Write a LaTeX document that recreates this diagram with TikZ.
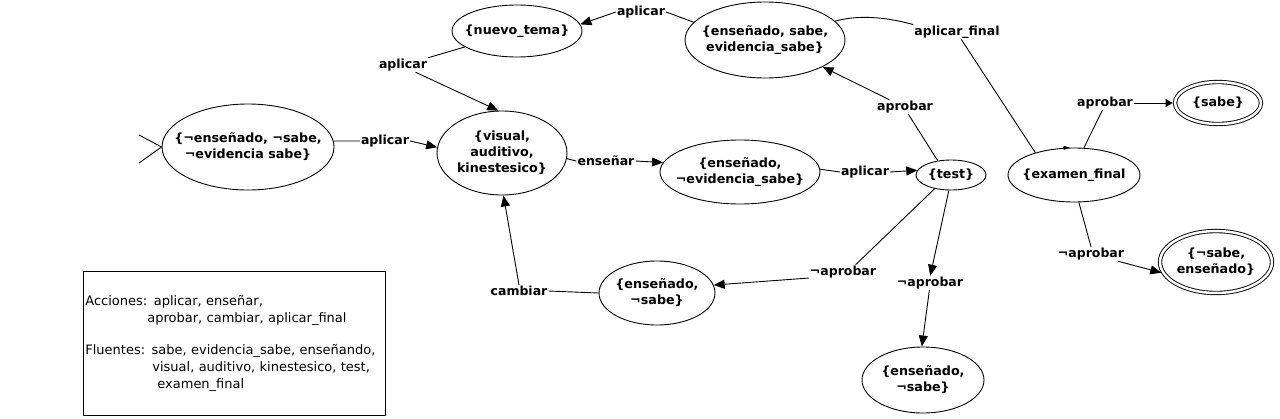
\documentclass[tikz,border=0pt]{standalone}
\usepackage{fontspec}
\setmainfont{DejaVu Sans}
\usetikzlibrary{shapes.geometric,arrows.meta}
\begin{document}
\begin{tikzpicture}[x=1pt,y=-1pt,
  st/.style={ellipse,draw,line width=0.9pt,inner sep=0pt},
  stl/.style={align=center,inner sep=0pt,font=\fontsize{12.7}{16}\selectfont\bfseries},
  fin/.style={st,double,double distance=2.5pt},
  lbl/.style={inner sep=1pt,font=\fontsize{12.5}{14}\selectfont\bfseries},
  ln/.style={line width=0.9pt},
  arr/.style={ln,-{Triangle[length=11pt,width=9pt]}},
  smallarr/.style={ln,-{Triangle[length=6pt,width=4pt]}},
]
\useasboundingbox (0,0) rectangle (1280,418);

% states
\node[st,minimum width=172,minimum height=86,label={[stl]center:{\{¬enseñado, ¬sabe,\\¬evidencia sabe\}}}] (s0) at (248,147) {};
\node[st,minimum width=130,minimum height=84,label={[stl]center:{\{visual,\\auditivo,\\kinestesico\}}}] (vis) at (502,153) {};
\node[st,minimum width=130,minimum height=52,label={[stl]center:{\{nuevo\_tema\}}}] (nt) at (517,31) {};
\node[st,minimum width=160,minimum height=76,label={[stl]center:{\{enseñado, sabe,\\evidencia\_sabe\}}}] (top) at (765,40) {};
\node[st,minimum width=160,minimum height=64,label={[stl]center:{\{enseñado,\\¬evidencia\_sabe\}}}] (mid) at (740,172) {};
\node[st,minimum width=70,minimum height=30,label={[stl]center:{\{test\}}}] (test) at (951,175) {};
\node[st,minimum width=132,minimum height=54,label={[stl]center:{\{examen\_final}}] (ex) at (1074,175) {};
\node[fin,minimum width=86,minimum height=42,label={[stl]center:{\{sabe\}}}] (sabe) at (1218,103) {};
\node[fin,minimum width=112,minimum height=62,label={[stl]center:{\{¬sabe,\\enseñado\}}}] (ns) at (1216,262) {};
\node[st,minimum width=116,minimum height=64,label={[stl]center:{\{enseñado,\\¬sabe\}}}] (e1) at (657,293) {};
\node[st,minimum width=122,minimum height=66,label={[stl]center:{\{enseñado,\\¬sabe\}}}] (e2) at (923,380) {};

% initial marker
\coordinate (i1) at (139,135);
\coordinate (i2) at (139,163);
\draw[ln] (i1) -- (s0.west);
\draw[ln] (i2) -- (s0.west);

% edge labels
\node[lbl] (l1) at (385,141) {aplicar};
\node[lbl] (l2) at (403,65) {aplicar};
\node[lbl] (l3) at (641,12) {aplicar};
\node[lbl] (l4) at (606,161) {enseñar};
\node[lbl] (l5) at (865,172) {aplicar};
\node[lbl] (l6) at (905,107) {aprobar};
\node[lbl] (l7) at (957,32) {aplicar\_final};
\node[lbl] (l8) at (843,272) {¬aprobar};
\node[lbl] (l9) at (930,283) {¬aprobar};
\node[lbl] (l10) at (519,291) {cambiar};
\node[lbl] (l11) at (1105,103) {aprobar};
\node[lbl] (l12) at (1091,254) {¬aprobar};

% edges
\draw[ln] (s0.4) -- (l1.west);
\draw[arr] (l1.east) -- (vis.175);

\draw[ln] (nt.197) -- (l2.north east);
\draw[arr] (l2.-30) -- (vis.95);

\draw[ln] (top.166) -- (l3.east);
\draw[arr] (l3.west) -- (nt.6);

\draw[ln] (vis.355) -- (l4.west);
\draw[arr] (l4.east) -- (mid.173);

\draw[ln] (mid.2) -- (l5.west);
\draw[arr] (l5.east) -- (test.172);

\draw[ln] (test.133) -- (l6.-65);
\draw[arr] (l6.155) -- (top.335);

\draw[ln] (top.15) .. controls (860,14) and (890,18) .. (l7.north west);
\draw[ln] (l7.-60) -- (ex.150);
\draw[smallarr] (ex.112) -- (ex.99);

\draw[ln] (test.220) -- (l8.30);
\draw[arr] (l8.190) -- (e1.8);

\draw[arr] (test.262) -- (l9.88);
\draw[arr] (l9.-95) -- (e2.92);

\draw[ln] (e1.west) -- (l10.east);
\draw[arr] (l10.north) -- (vis.272);

\draw[ln] (ex.70) -- (l11.-110);
\draw[ln,-{Triangle[length=7pt,width=8pt]},shorten >=2pt] (l11.east) -- (sabe.west);

\draw[ln] (ex.280) -- (l12.north);
\draw[arr,shorten >=2pt] (l12.-15) -- (ns.192);

% legend
\node[draw,line width=0.8pt,anchor=north west,minimum width=302,minimum height=144,
      inner sep=2pt,text width=298,align=left,font=\fontsize{13}{17}\selectfont] (leg) at (83,271)
 {Acciones: aplicar, enseñar,\\
  \hspace*{62pt}aprobar, cambiar, aplicar\_final\\[15pt]
  Fluentes: sabe, evidencia\_sabe, enseñando,\\
  \hspace*{67pt}visual, auditivo, kinestesico, test,\\
  \hspace*{72pt}examen\_final};
\end{tikzpicture}
\end{document}
